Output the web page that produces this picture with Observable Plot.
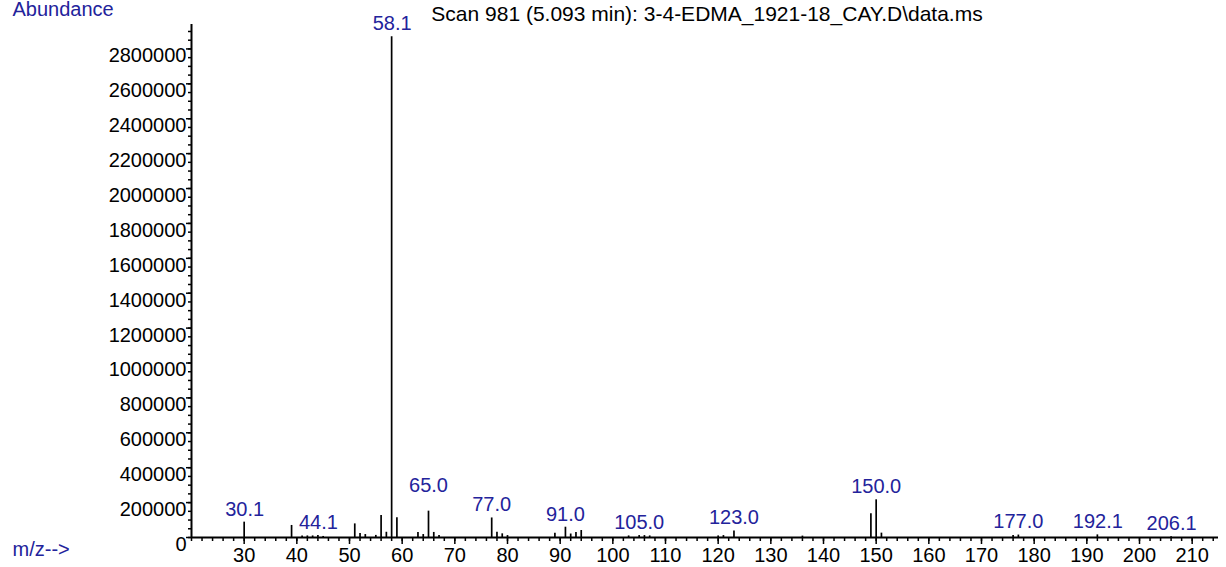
<!DOCTYPE html>
<html>
<head>
<meta charset="utf-8">
<script src="https://cdn.jsdelivr.net/npm/d3@7"></script>
<script src="https://cdn.jsdelivr.net/npm/@observablehq/plot@0.6"></script>
<style>
  html, body { margin: 0; padding: 0; background: #fff; overflow: hidden; }
</style>
</head>
<body>
<div id="chart"></div>
<script>
const title = "Scan 981 (5.093 min): 3-4-EDMA_1921-18_CAY.D\\data.ms";
const yLabel = "Abundance";
const xLabel = "m/z-->";

// peak m/z values and abundances
const mz = [30, 39, 41, 42, 43, 44, 45, 51, 52, 53, 55, 56, 57, 58, 59, 63, 64, 65, 66, 67,
            77, 78, 79, 80, 89, 91, 92, 93, 94, 103, 105, 106, 107, 120, 121, 123, 136,
            149, 150, 151, 176, 177, 192, 206];
const abundance = [88000, 69000, 9000, 9000, 9000, 12000, 6000, 78000, 23000, 17000, 12000, 126000, 30000, 2870000, 113000, 29000, 17000, 151000, 29000, 11000,
            112000, 30000, 21000, 11000, 25000, 59000, 20000, 29000, 40000, 9000, 11000, 11000, 9000, 9000, 11000, 37000, 8000,
            136000, 216000, 25000, 11000, 14000, 15000, 4000];

// labelled peaks
const labelMz = [30.1, 44.1, 58.1, 65.0, 77.0, 91.0, 105.0, 123.0, 150.0, 177.0, 192.1, 206.1];
const labelText = ["30.1", "44.1", "58.1", "65.0", "77.0", "91.0", "105.0", "123.0", "150.0", "177.0", "192.1", "206.1"];

// axis ticks
const xMajor = [30, 40, 50, 60, 70, 80, 90, 100, 110, 120, 130, 140, 150, 160, 170, 180, 190, 200, 210];
const xMinor = d3.range(20, 215, 2);
const yMajor = [0, 200000, 400000, 600000, 800000, 1000000, 1200000, 1400000, 1600000, 1800000, 2000000, 2200000, 2400000, 2600000, 2800000];
const yMinor = d3.range(0, 2940001, 50000);

const peaks = mz.map((m, i) => ({mz: m, ab: abundance[i]}));
const labels = labelMz.map((m, i) => {
  const near = peaks.reduce((a, b) => Math.abs(b.mz - m) < Math.abs(a.mz - m) ? b : a);
  return {mz: m, ab: near.ab, text: labelText[i]};
});

const blue = "#23239b";

const chart = Plot.plot({
  width: 1226,
  height: 567,
  marginLeft: 191,
  marginRight: 8,
  marginTop: 24,
  marginBottom: 30,
  style: {fontFamily: "'Liberation Sans', Arial, sans-serif", fontSize: "20px", background: "#fff", overflow: "visible"},
  x: {domain: [20, 215], label: null},
  y: {domain: [0, 2940000], label: null},
  marks: [
    Plot.axisX({ticks: xMinor, tickSize: 4, tickFormat: () => "", strokeWidth: 1.5, label: null}),
    Plot.axisX({ticks: xMajor, tickSize: 7, tickPadding: 3, tickFormat: d => String(d), strokeWidth: 1.5, fill: "#000", label: null}),
    Plot.axisY({ticks: yMinor, tickSize: 3, tickFormat: () => "", strokeWidth: 1.5, label: null}),
    Plot.axisY({ticks: yMajor, tickSize: 5, tickFormat: () => "", strokeWidth: 1.5, label: null}),
    Plot.axisY({ticks: yMajor, tickSize: 0, tickPadding: 5, dy: 7, tickFormat: d => String(d), fill: "#000", label: null}),
    Plot.ruleY([0], {stroke: "#000", strokeWidth: 2}),
    Plot.ruleX([20], {stroke: "#000", strokeWidth: 2}),
    Plot.ruleX(peaks, {x: "mz", y1: 0, y2: "ab", stroke: "#000", strokeWidth: 1.7}),
    Plot.text(labels.filter(d => d.text !== "65.0"), {x: "mz", y: "ab", text: "text", fill: blue, dy: -13}),
    Plot.text(labels.filter(d => d.text === "65.0"), {x: "mz", y: "ab", text: "text", fill: blue, dy: -26}),
    Plot.text([title], {frameAnchor: "top", lineAnchor: "middle", text: d => d, dx: 2, dy: -10, fill: "#000", fontSize: 21}),
    Plot.text([yLabel], {frameAnchor: "top-left", lineAnchor: "middle", text: d => d, dx: -179, dy: -15, textAnchor: "start", fill: blue}),
    Plot.text([xLabel], {frameAnchor: "bottom-left", lineAnchor: "middle", text: d => d, dx: -179, dy: 12, textAnchor: "start", fill: blue})
  ]
});
document.getElementById("chart").appendChild(chart);
</script>
</body>
</html>
